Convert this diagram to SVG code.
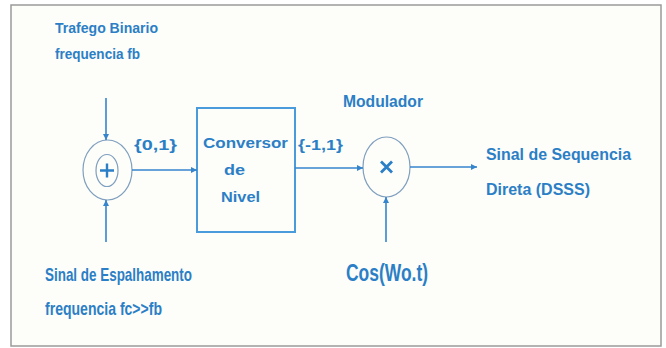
<svg xmlns="http://www.w3.org/2000/svg" width="666" height="348" viewBox="0 0 666 348">
<style>
.lbl{font-family:"Liberation Sans Narrow","Liberation Sans",Arial,sans-serif;font-weight:bold;fill:#2b7fc6}
.box{font-family:"Liberation Sans",Arial,sans-serif;font-weight:bold;fill:#2b7fc6;font-size:14px}
.ln{stroke:#3585cc;stroke-width:1.6;fill:none}
.ell{stroke:#7f9fbf;stroke-width:1.2;fill:none}
</style>
<defs>
<marker id="ah" viewBox="0 0 10 10" refX="10" refY="5" markerWidth="7" markerHeight="6" markerUnits="userSpaceOnUse" orient="auto">
<path d="M0,0 L10,5 L0,10 z" fill="#3585cc"/>
</marker>
</defs>
<rect x="11" y="5" width="650" height="341" fill="#fdfdf9" stroke="#9a9a9a" stroke-width="1.5"/>
<g id="labels">
<text class="lbl" x="55" y="33" font-size="15.5" textLength="103" lengthAdjust="spacingAndGlyphs">Trafego Binario</text>
<text class="lbl" x="55" y="59" font-size="15.5" textLength="85" lengthAdjust="spacingAndGlyphs">frequencia fb</text>
<text class="lbl" x="45" y="281" font-size="19" textLength="147" lengthAdjust="spacingAndGlyphs">Sinal de Espalhamento</text>
<text class="lbl" x="45" y="315" font-size="19" textLength="117" lengthAdjust="spacingAndGlyphs">frequencia fc&gt;&gt;fb</text>
<text class="lbl" x="343" y="107" font-size="16" textLength="80" lengthAdjust="spacingAndGlyphs">Modulador</text>
<text class="lbl" x="486" y="160" font-size="17" textLength="145" lengthAdjust="spacingAndGlyphs">Sinal de Sequencia</text>
<text class="lbl" x="486" y="195" font-size="17" textLength="104" lengthAdjust="spacingAndGlyphs">Direta (DSSS)</text>
<text class="lbl" x="346" y="281" font-size="23" textLength="82" lengthAdjust="spacingAndGlyphs">Cos(Wo.t)</text>
<text class="box" x="134" y="150" textLength="43" lengthAdjust="spacingAndGlyphs">{0,1}</text>
<text class="box" x="298" y="150" textLength="45" lengthAdjust="spacingAndGlyphs">{-1,1}</text>
</g>
<g id="somador">
<ellipse cx="107.5" cy="170" rx="24.5" ry="30" class="ell"/>
<ellipse cx="107" cy="170.5" rx="11" ry="16" class="ell"/>
<path d="M100,170.5 H114 M107,163.5 V177.5" stroke="#2b7fc6" stroke-width="2.4" fill="none"/>
</g>
<g id="conversor">
<rect x="197" y="108" width="98" height="124" fill="none" stroke="#4a9bdc" stroke-width="2"/>
<text class="box" x="203" y="148" textLength="85" lengthAdjust="spacingAndGlyphs">Conversor</text>
<text class="box" x="224" y="175" textLength="21" lengthAdjust="spacingAndGlyphs">de</text>
<text class="box" x="221" y="202" textLength="39" lengthAdjust="spacingAndGlyphs">Nivel</text>
</g>
<g id="modulador">
<ellipse cx="386.5" cy="167" rx="23.5" ry="30" class="ell"/>
<path d="M381,161.5 L392,172.5 M392,161.5 L381,172.5" stroke="#2b7fc6" stroke-width="2.8" fill="none"/>
</g>
<g id="connectors">
<line x1="106" y1="98" x2="106" y2="140" class="ln" marker-end="url(#ah)"/>
<line x1="106" y1="242" x2="106" y2="200" class="ln" marker-end="url(#ah)"/>
<line x1="132" y1="170" x2="197" y2="170" class="ln" marker-end="url(#ah)"/>
<line x1="295" y1="168" x2="363" y2="168" class="ln" marker-end="url(#ah)"/>
<line x1="410" y1="167" x2="477" y2="167" class="ln" marker-end="url(#ah)"/>
<line x1="386" y1="242" x2="386" y2="197" class="ln" marker-end="url(#ah)"/>
</g>
</svg>
